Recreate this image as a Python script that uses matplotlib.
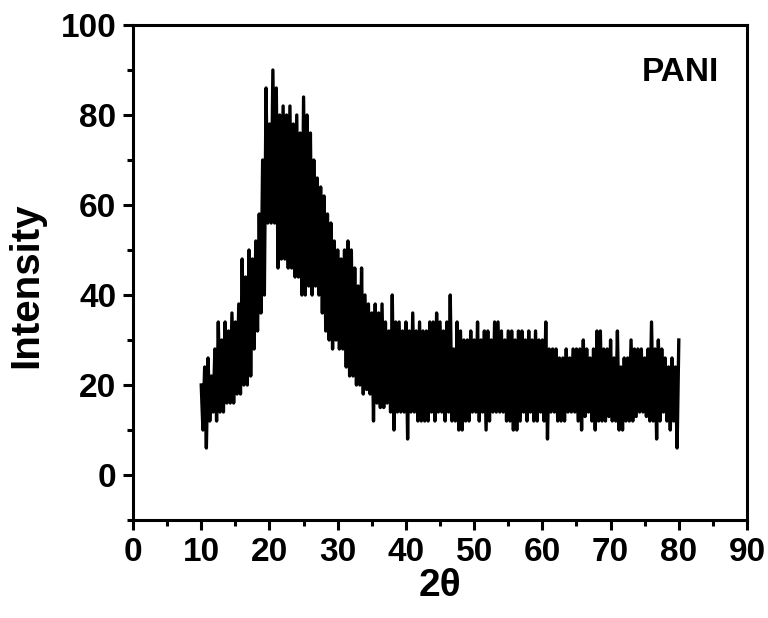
import numpy as np
import matplotlib
matplotlib.use("Agg")
import matplotlib.pyplot as plt
from matplotlib.ticker import MultipleLocator

plt.rcParams['font.family'] = ['Liberation Sans', 'DejaVu Sans']
plt.rcParams['font.weight'] = 'bold'

# PANI diffraction trace: local maxima (every 0.5 deg from 10 to 80)
upper = [20, 24, 26, 22, 28, 34, 30, 34, 32, 36, 34, 38, 48, 44, 50, 48, 52, 58, 70, 86,
         78, 90, 86, 80, 82, 80, 82, 78, 80, 76, 84, 80, 76, 70, 66, 64, 62, 58, 56, 52,
         50, 48, 50, 52, 50, 46, 42, 46, 40, 38, 36, 38, 36, 38, 34, 32, 40, 34, 34, 32,
         34, 32, 36, 32, 34, 32, 32, 34, 34, 36, 34, 32, 34, 40, 28, 34, 32, 30, 30, 32,
         30, 34, 30, 32, 32, 30, 34, 34, 32, 30, 32, 32, 30, 32, 32, 30, 32, 30, 32, 30,
         30, 34, 28, 28, 28, 26, 26, 28, 26, 28, 28, 28, 30, 28, 26, 28, 32, 32, 28, 28,
         30, 26, 32, 24, 26, 26, 30, 28, 28, 28, 26, 28, 34, 28, 30, 28, 26, 24, 26, 24,
         30]
# local minima, between consecutive maxima (10.25 ... 79.75)
lower = [10, 6, 12, 14, 12, 14, 14, 16, 16, 16, 18, 18, 20, 20, 22, 28, 32, 36, 40, 56,
         56, 56, 46, 48, 48, 46, 46, 44, 44, 40, 40, 42, 40, 42, 40, 36, 32, 30, 28, 30,
         28, 28, 24, 22, 22, 20, 20, 18, 19, 18, 12, 16, 15, 15, 16, 14, 10, 14, 14, 14,
         8, 14, 14, 12, 12, 12, 12, 14, 12, 14, 14, 12, 14, 12, 12, 10, 10, 12, 12, 14,
         14, 12, 14, 10, 12, 14, 14, 14, 14, 12, 12, 10, 10, 12, 14, 12, 14, 12, 12, 14,
         12, 8, 14, 14, 12, 12, 12, 14, 14, 14, 12, 10, 13, 14, 12, 10, 12, 12, 12, 13,
         12, 12, 10, 10, 12, 12, 12, 13, 14, 14, 13, 12, 12, 8, 12, 14, 12, 10, 12, 6]

x_start, x_end = 10.0, 80.0
x_upper = np.linspace(x_start, x_end, len(upper))
step = x_upper[1] - x_upper[0]
x_lower = x_upper[:-1] + step / 2

# interleave maxima and minima into one continuous trace
x = np.empty(len(upper) + len(lower))
y = np.empty_like(x)
x[0::2], y[0::2] = x_upper, upper
x[1::2], y[1::2] = x_lower, lower

fig = plt.figure(figsize=(7.68, 6.18), dpi=100)
ax = fig.add_axes([0.1732, 0.1586, 0.7995, 0.8009])
ax.plot(x, y, color='black', lw=2.4, solid_joinstyle='round')

ax.set_xlim(0, 90)
ax.set_ylim(-10, 100)
ax.xaxis.set_major_locator(MultipleLocator(10))
ax.xaxis.set_minor_locator(MultipleLocator(5))
ax.yaxis.set_major_locator(MultipleLocator(20))
ax.yaxis.set_minor_locator(MultipleLocator(10))
ax.set_yticks([0, 20, 40, 60, 80, 100])

for s in ax.spines.values():
    s.set_linewidth(2.2)
ax.tick_params(which='major', direction='out', length=7, width=2.2,
               labelsize=24, pad=5)
ax.tick_params(which='minor', direction='out', length=4, width=2.2)
for lab in ax.get_xticklabels() + ax.get_yticklabels():
    lab.set_fontweight('bold')

ax.set_xlabel('2θ', fontsize=28, fontweight='bold', labelpad=0)
ax.set_ylabel('Intensity', fontsize=29, fontweight='bold')
ax.yaxis.set_label_coords(-0.143, 0.475)
ax.text(0.891, 0.905, 'PANI', transform=ax.transAxes, ha='center', va='center',
        fontsize=24, fontweight='bold')

fig.savefig('out.png', dpi=100)
